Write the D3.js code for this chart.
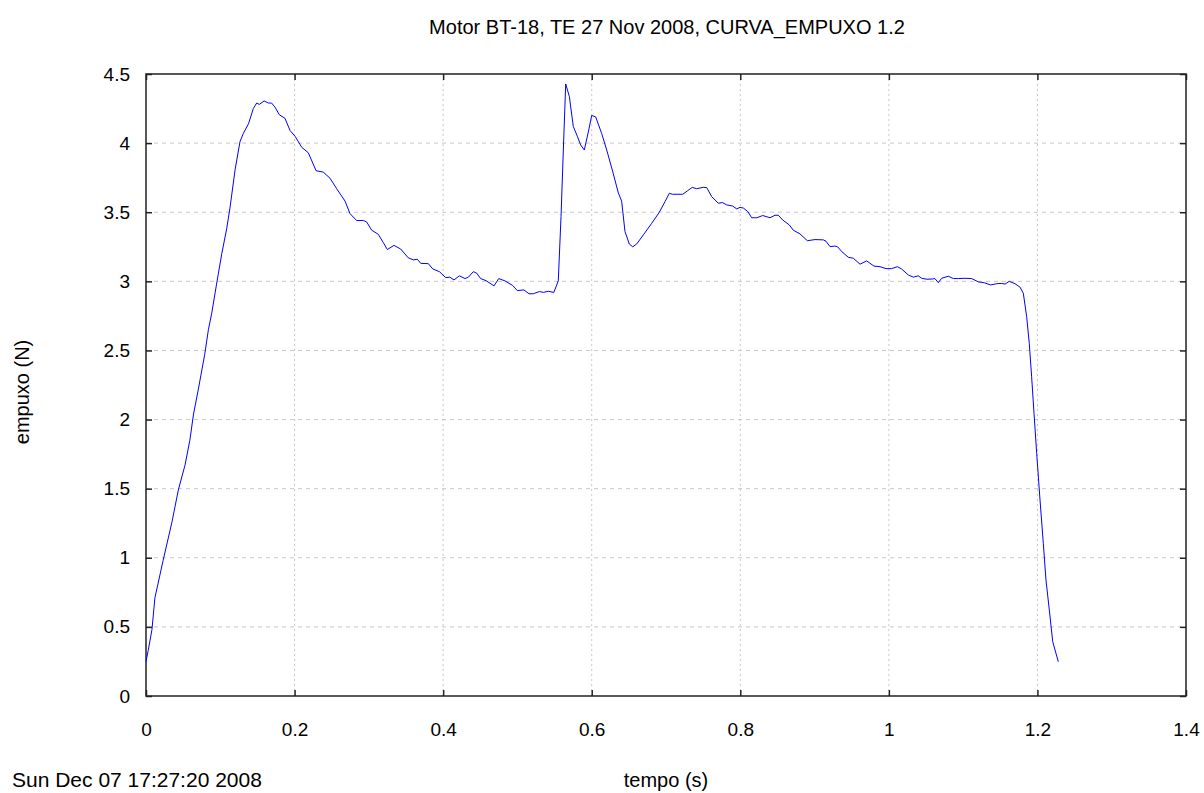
<!DOCTYPE html>
<html>
<head>
<meta charset="utf-8">
<script src="https://cdn.jsdelivr.net/npm/d3@7"></script>
<style>
  body { margin: 0; background: #fff; }
  svg text { font-family: "Liberation Sans", Arial, sans-serif; fill: #000; }
</style>
</head>
<body>
<div id="chart"></div>
<script>
// thrust curve
const tempo = [0, 0.003, 0.008, 0.012, 0.023, 0.035, 0.0435, 0.0525, 0.059, 0.064, 0.0705, 0.079, 0.084, 0.0885,
  0.095, 0.102, 0.1086, 0.113, 0.12, 0.1265, 0.131, 0.138, 0.1445, 0.149, 0.1525, 0.159, 0.1647, 0.169, 0.1737,
  0.1795, 0.187, 0.194, 0.2006, 0.2096, 0.2185, 0.229, 0.2387, 0.2477, 0.2567, 0.268, 0.2746, 0.2836, 0.2925,
  0.297, 0.3038, 0.3127, 0.3195, 0.3249, 0.3338, 0.3428, 0.3531, 0.36, 0.3652, 0.3698, 0.38, 0.386, 0.395,
  0.4034, 0.409, 0.4146, 0.4218, 0.4294, 0.434, 0.4406, 0.445, 0.4505, 0.4577, 0.4685, 0.4748, 0.4833, 0.4936,
  0.4999, 0.5088, 0.5156, 0.5214, 0.5295, 0.535, 0.5416, 0.549, 0.555, 0.5587, 0.5618, 0.565, 0.5699, 0.5752,
  0.5806, 0.5851, 0.59, 0.5954, 0.6, 0.6053, 0.6134, 0.6202, 0.629, 0.6358, 0.6403, 0.6448, 0.6506, 0.6552,
  0.6605, 0.6695, 0.6808, 0.691, 0.6987, 0.7045, 0.7086, 0.7225, 0.7287, 0.7354, 0.7412, 0.7502, 0.7548,
  0.7615, 0.7704, 0.776, 0.7817, 0.7897, 0.7952, 0.7996, 0.8042, 0.81, 0.8154, 0.8221, 0.8302, 0.84, 0.8467,
  0.8512, 0.8571, 0.866, 0.8714, 0.8804, 0.8903, 0.9006, 0.9118, 0.9154, 0.9208, 0.9275, 0.931, 0.9366,
  0.9454, 0.9522, 0.9612, 0.9701, 0.98, 0.9881, 0.9962, 1.0038, 1.0114, 1.017, 1.0262, 1.033, 1.0396, 1.0442,
  1.051, 1.0588, 1.062, 1.0666, 1.071, 1.08, 1.0868, 1.0935, 1.1025, 1.1115, 1.1204, 1.1284, 1.137, 1.1452,
  1.1519, 1.1564, 1.162, 1.1698, 1.1765, 1.181, 1.1855, 1.189, 1.1922, 1.1954, 1.199, 1.2035, 1.2079, 1.2115,
  1.216, 1.2206, 1.2281];
const empuxo = [0.25, 0.33, 0.48, 0.71, 0.98, 1.26, 1.49, 1.67, 1.85, 2.04, 2.22, 2.47, 2.65, 2.77,
  2.98, 3.2, 3.38, 3.53, 3.81, 4.01, 4.07, 4.14, 4.25, 4.29, 4.28, 4.305, 4.29, 4.29, 4.26,
  4.205, 4.18, 4.09, 4.05, 3.97, 3.93, 3.8, 3.79, 3.746, 3.67, 3.58, 3.49, 3.44, 3.44,
  3.43, 3.37, 3.34, 3.28, 3.23, 3.26, 3.234, 3.17, 3.155, 3.16, 3.13, 3.128, 3.09, 3.07,
  3.027, 3.03, 3.01, 3.04, 3.02, 3.03, 3.07, 3.06, 3.02, 3.005, 2.967, 3.02, 3.003, 2.97,
  2.933, 2.938, 2.91, 2.91, 2.926, 2.92, 2.928, 2.92, 3.003, 3.47, 3.95, 4.428, 4.337, 4.12,
  4.05, 3.987, 3.95, 4.08, 4.2, 4.19, 4.07, 3.95, 3.78, 3.64, 3.58, 3.36, 3.27, 3.25,
  3.27, 3.336, 3.42, 3.5, 3.577, 3.637, 3.63, 3.63, 3.654, 3.68, 3.67, 3.68, 3.678,
  3.613, 3.565, 3.57, 3.553, 3.545, 3.524, 3.535, 3.53, 3.505, 3.46, 3.46, 3.476, 3.46, 3.478,
  3.478, 3.444, 3.408, 3.37, 3.343, 3.294, 3.302, 3.3, 3.29, 3.251, 3.255, 3.25, 3.215,
  3.174, 3.167, 3.124, 3.148, 3.11, 3.106, 3.092, 3.092, 3.106, 3.09, 3.046, 3.03, 3.04, 3.022,
  3.015, 3.017, 3.02, 2.99, 3.022, 3.037, 3.02, 3.02, 3.022, 3.02, 2.996, 2.99, 2.974, 2.983,
  2.985, 2.98, 3.0, 2.983, 2.958, 2.914, 2.745, 2.552, 2.31, 2.046, 1.756, 1.418, 1.105, 0.839,
  0.622, 0.393, 0.248];

const xTicks = [0, 0.2, 0.4, 0.6, 0.8, 1, 1.2, 1.4];
const yTicks = [0, 0.5, 1, 1.5, 2, 2.5, 3, 3.5, 4, 4.5];

const width = 1204, height = 793;
const plotLeft = 146, plotRight = 1186, plotTop = 74, plotBottom = 696;

const svg = d3.select('#chart').append('svg')
  .attr('width', width)
  .attr('height', height);

const x = d3.scaleLinear().domain([0, 1.4]).range([plotLeft, plotRight]);
const y = d3.scaleLinear().domain([0, 4.5]).range([plotBottom, plotTop]);

// grid
svg.append('g').selectAll('line')
  .data(xTicks.slice(1, -1))
  .enter().append('line')
  .attr('x1', d => x(d)).attr('x2', d => x(d))
  .attr('y1', plotTop).attr('y2', plotBottom)
  .attr('stroke', '#c8c8c8').attr('stroke-dasharray', '2,3');

svg.append('g').selectAll('line')
  .data(yTicks.slice(1, -1))
  .enter().append('line')
  .attr('x1', plotLeft).attr('x2', plotRight)
  .attr('y1', d => y(d)).attr('y2', d => y(d))
  .attr('stroke', '#c8c8c8').attr('stroke-dasharray', '4,4');

// axes with inward ticks on all sides
const fmt = d => String(d);
svg.append('g').attr('transform', `translate(0,${plotBottom})`)
  .call(d3.axisBottom(x).tickValues(xTicks).tickFormat(fmt).tickSize(-6).tickPadding(27));
svg.append('g').attr('transform', `translate(0,${plotTop})`)
  .call(d3.axisTop(x).tickValues(xTicks).tickFormat('').tickSize(-6));
svg.append('g').attr('transform', `translate(${plotLeft},0)`)
  .call(d3.axisLeft(y).tickValues(yTicks).tickFormat(fmt).tickSize(-6).tickPadding(16));
svg.append('g').attr('transform', `translate(${plotRight},0)`)
  .call(d3.axisRight(y).tickValues(yTicks).tickFormat('').tickSize(-6));

svg.selectAll('.domain').remove();
svg.selectAll('.tick line').attr('stroke', '#222').attr('stroke-width', 1.5);
svg.selectAll('.tick text').style('font-size', '19px').style('font-family', '"Liberation Sans", Arial, sans-serif');

svg.append('rect')
  .attr('x', plotLeft).attr('y', plotTop)
  .attr('width', plotRight - plotLeft).attr('height', plotBottom - plotTop)
  .attr('fill', 'none').attr('stroke', '#222').attr('stroke-width', 1.5);

// curve
const pts = tempo.map((t, i) => [t, empuxo[i]]);
svg.append('path')
  .datum(pts)
  .attr('d', d3.line().x(d => x(d[0])).y(d => y(d[1])))
  .attr('fill', 'none')
  .attr('stroke', '#0000ff')
  .attr('stroke-width', 1);

// labels
svg.append('text').attr('x', 667).attr('y', 34).attr('text-anchor', 'middle')
  .style('font-size', '20px').text('Motor BT-18, TE 27 Nov 2008, CURVA_EMPUXO 1.2');
svg.append('text').attr('x', 666).attr('y', 787).attr('text-anchor', 'middle')
  .style('font-size', '20px').text('tempo (s)');
svg.append('text').attr('x', 12).attr('y', 787)
  .style('font-size', '21px').text('Sun Dec 07 17:27:20 2008');
svg.append('text').attr('transform', 'translate(29,392) rotate(-90)').attr('text-anchor', 'middle')
  .style('font-size', '20px').text('empuxo (N)');
</script>
</body>
</html>
